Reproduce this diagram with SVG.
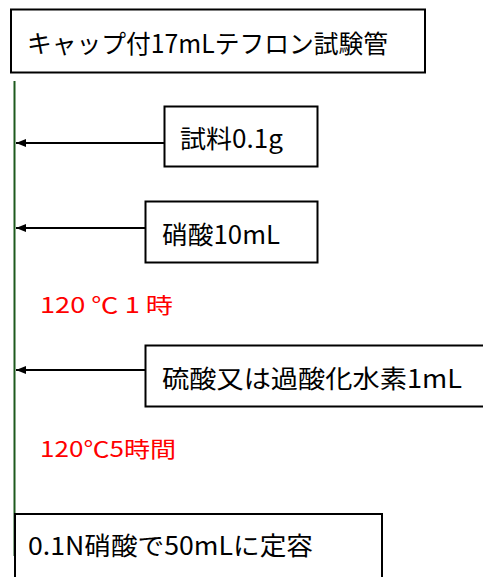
<svg xmlns="http://www.w3.org/2000/svg" width="483" height="577" viewBox="0 0 483 577">
<style>
.box{fill:#fff;stroke:#000;stroke-width:2}
.t{font-family:"Noto Sans CJK JP","Noto Sans",sans-serif;font-size:25px;fill:#000}
.r{font-family:"Noto Sans CJK JP","Noto Sans",sans-serif;font-size:22px;fill:#ff0000}
.arr{stroke:#000;stroke-width:2;fill:none;marker-end:url(#ah)}
</style>
<defs>
<marker id="ah" markerWidth="10" markerHeight="8" refX="10" refY="4" orient="auto" markerUnits="userSpaceOnUse">
<path d="M0,0 L10,4 L0,8 Z" fill="#000"/>
</marker>
</defs>
<rect width="483" height="577" fill="#fff"/>
<g id="connectors">
<line x1="14.5" y1="81" x2="14.5" y2="556" stroke="#1e5a1e" stroke-width="2"/>
<line class="arr" x1="164" y1="143" x2="16" y2="143"/>
<line class="arr" x1="145" y1="228" x2="16" y2="228"/>
<line class="arr" x1="145" y1="370" x2="16" y2="370"/>
</g>
<g id="n-tube">
<rect class="box" x="11" y="9.5" width="414" height="63"/>
<text class="t" x="27" y="53" textLength="361" lengthAdjust="spacingAndGlyphs">キャップ付17mLテフロン試験管</text>
</g>
<g id="n-sample">
<rect class="box" x="164.5" y="106.5" width="153" height="60"/>
<text class="t" x="180" y="148" textLength="103" lengthAdjust="spacingAndGlyphs">試料0.1g</text>
</g>
<g id="n-nitric">
<rect class="box" x="145.5" y="201.5" width="172" height="61"/>
<text class="t" x="162" y="244" textLength="118" lengthAdjust="spacingAndGlyphs">硝酸10mL</text>
</g>
<g id="t-heat1">
<text class="r" x="40" y="313" textLength="133" lengthAdjust="spacingAndGlyphs">120 ℃ 1 時</text>
</g>
<g id="n-sulfuric">
<rect class="box" x="145.5" y="345.5" width="345" height="61"/>
<text class="t" x="162" y="388" textLength="300" lengthAdjust="spacingAndGlyphs">硫酸又は過酸化水素1mL</text>
</g>
<g id="t-heat2">
<text class="r" x="40" y="457" textLength="136" lengthAdjust="spacingAndGlyphs">120℃5時間</text>
</g>
<g id="n-dilute">
<rect class="box" x="15" y="514" width="367" height="80"/>
<text class="t" x="28" y="555" textLength="285" lengthAdjust="spacingAndGlyphs">0.1N硝酸で50mLに定容</text>
</g>
</svg>
